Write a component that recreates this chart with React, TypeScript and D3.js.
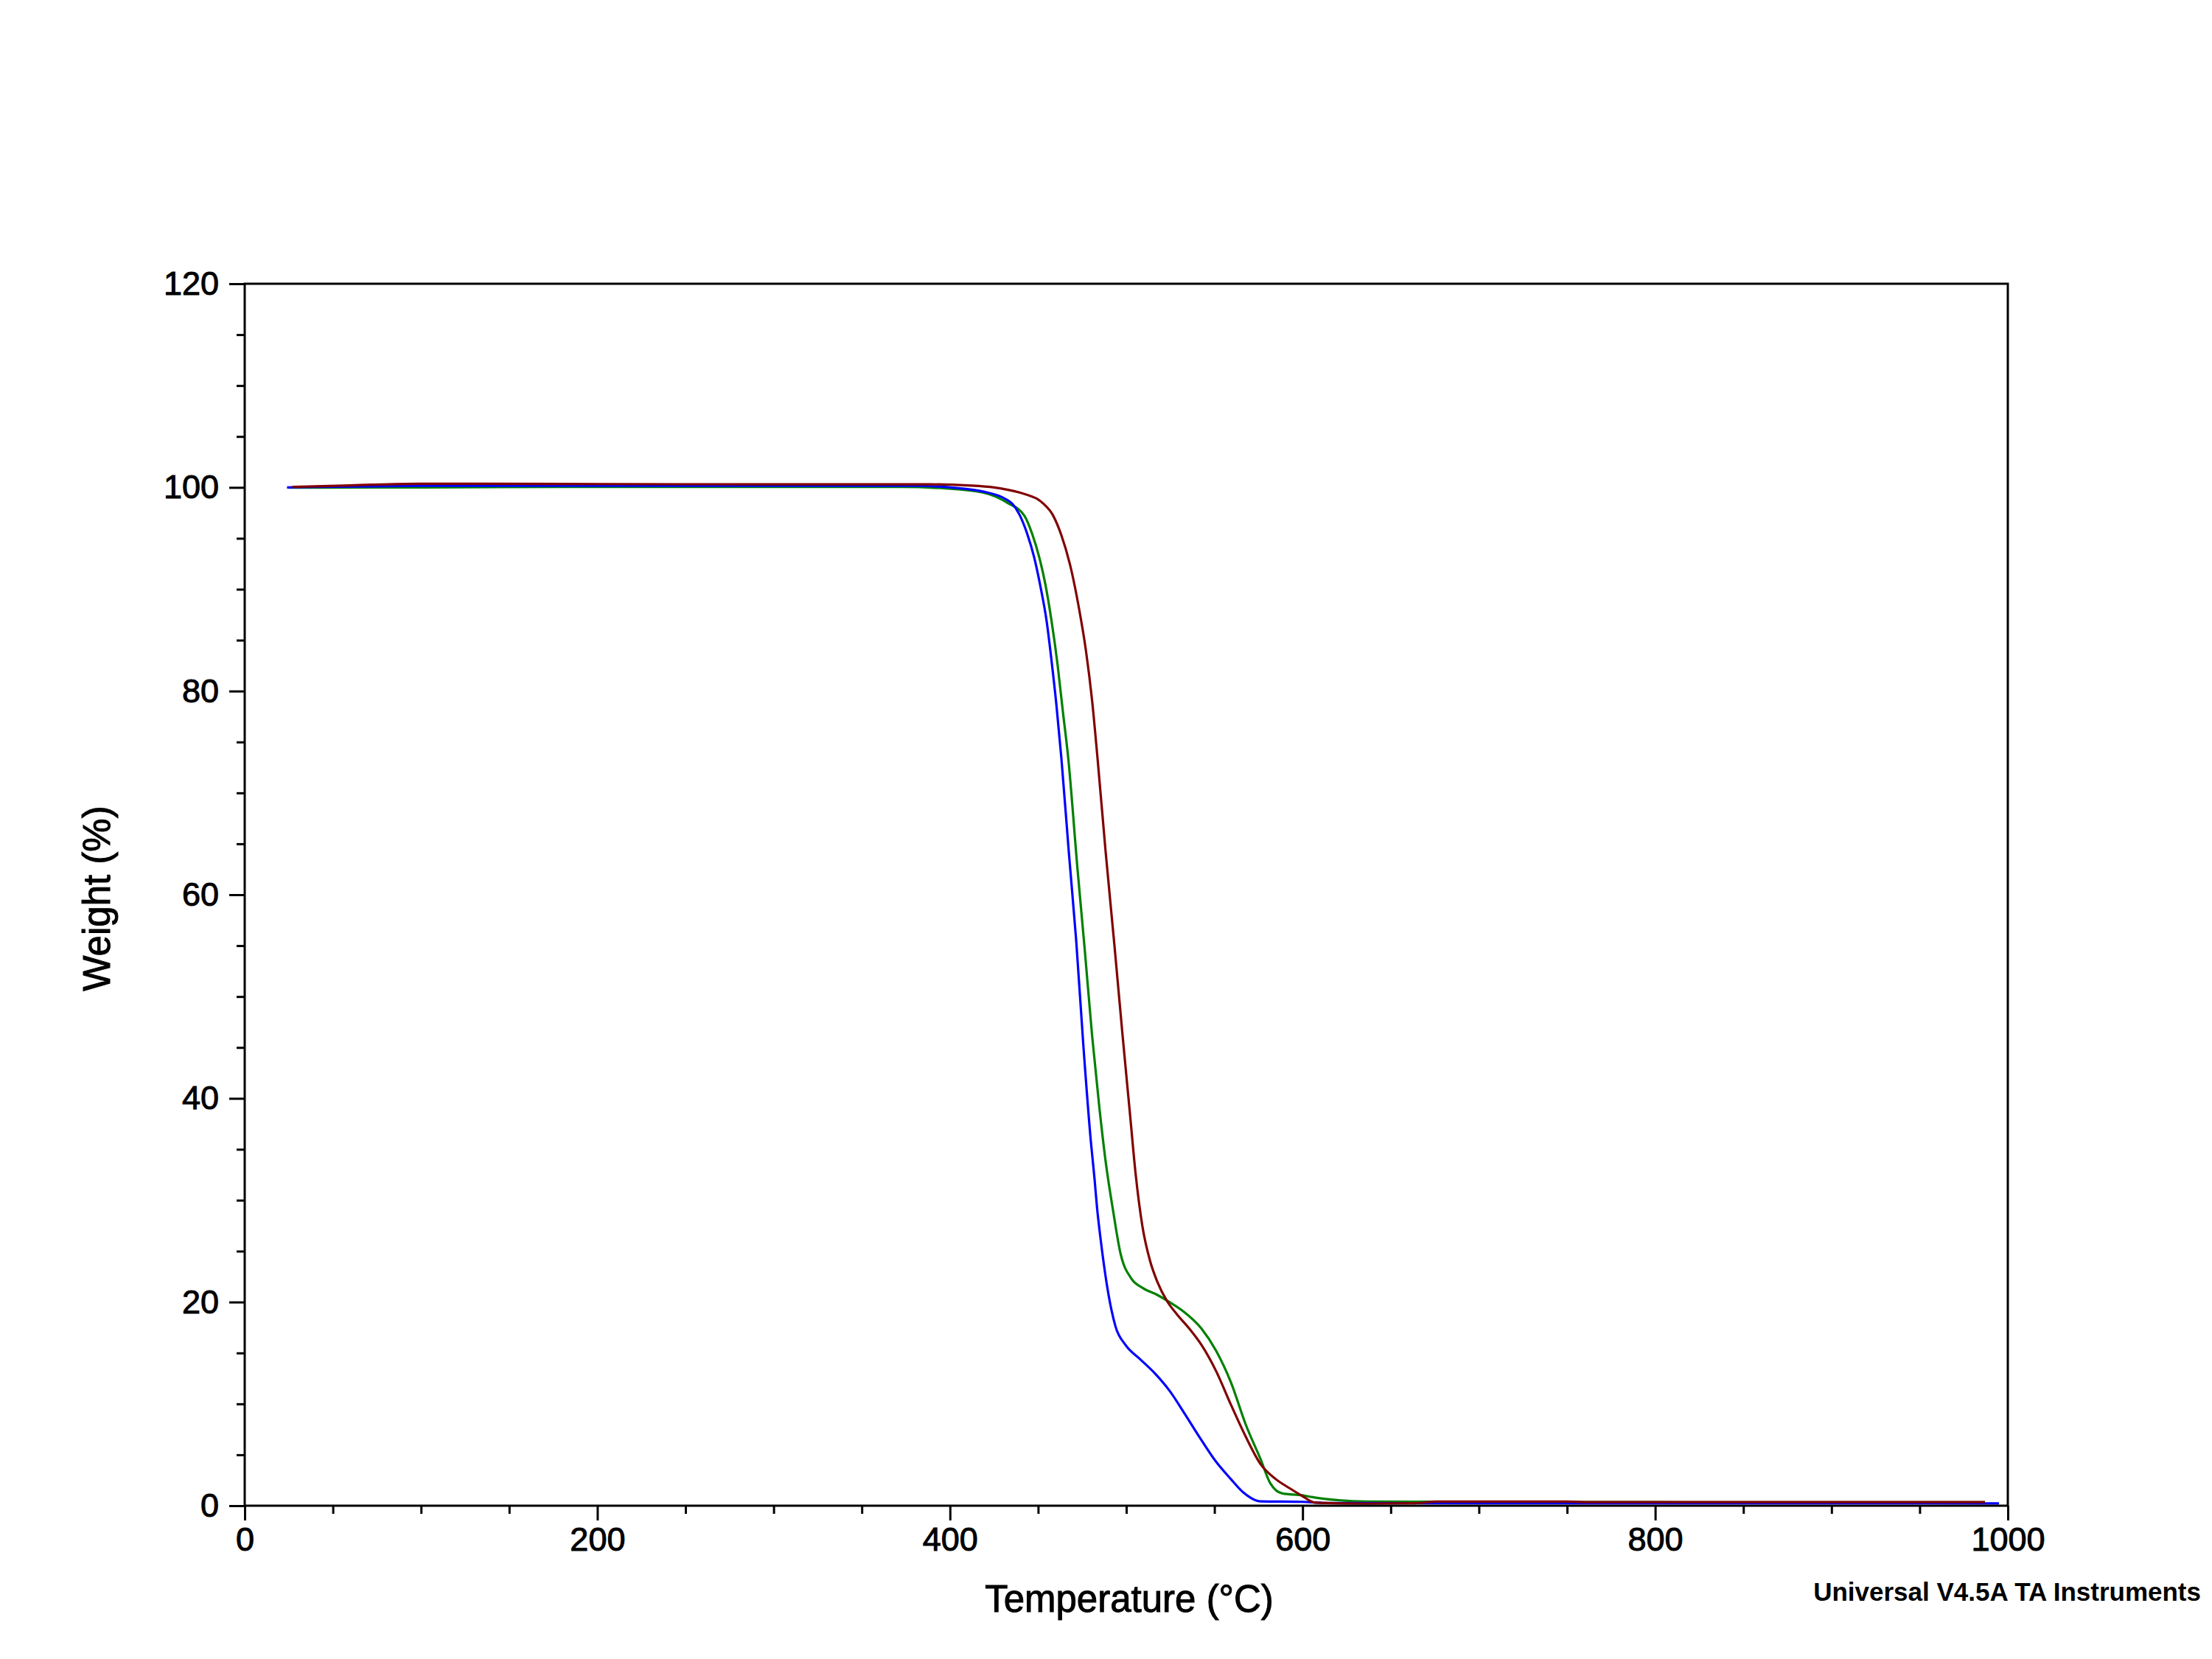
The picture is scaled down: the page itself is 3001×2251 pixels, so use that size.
import React, { useEffect, useRef } from 'react';
import * as d3 from 'd3';

// TGA curves: [temperature °C, weight %]
const blueSeries: [number, number][] = [
  [24, 100.0], [40, 100.05], [100, 100.15], [200, 100.16], [300, 100.16], [381, 100.15],
  [404.7, 99.93], [418.6, 99.6], [431.1, 98.9], [435.3, 98.4], [439.5, 97.3], [443.7, 95.5],
  [447.8, 93.1], [451.4, 90.2], [454.8, 86.9], [457.6, 83.0], [460.4, 78.6], [463.2, 73.4],
  [467.4, 64.2], [471.6, 55.5], [475.7, 45.1], [479.9, 35.8], [482.0, 32.1], [483.4, 29.3],
  [485.5, 26.1], [489.0, 21.7], [493.9, 17.6], [499.5, 15.8], [507.8, 14.4], [516.2, 13.0],
  [524.5, 11.3], [532.9, 9.1], [541.3, 6.8], [551.0, 4.3], [559.4, 2.6], [566.4, 1.3],
  [576.1, 0.43], [600, 0.38], [615, 0.26], [700, 0.25], [800, 0.24], [900, 0.24], [995, 0.23],
];

const greenSeries: [number, number][] = [
  [25, 99.98], [100, 100.0], [200, 100.05], [300, 100.05], [372, 100.05], [397.6, 99.9],
  [418.6, 99.5], [432.5, 98.5], [442.3, 97.2], [446.5, 95.5], [450.7, 93.1], [454.1, 90.5],
  [457.6, 86.9], [461.1, 82.5], [463.9, 78.2], [467.1, 73.4], [472.3, 62.6], [476.5, 54.5],
  [480.6, 46.2], [484.8, 39.0], [488.3, 33.8], [492.5, 29.0], [496.7, 24.8], [502.9, 22.3],
  [509.2, 21.4], [517.6, 20.7], [524.5, 20.0], [531.5, 19.2], [542.6, 17.4], [551.0, 15.2],
  [559.4, 12.1], [567.7, 8.0], [576.1, 4.6], [581.7, 2.2], [588.6, 1.2], [599.8, 1.02],
  [606.8, 0.8], [620.7, 0.53], [636, 0.41], [664, 0.39], [750, 0.36], [850, 0.34], [987, 0.33],
];

const redSeries: [number, number][] = [
  [27, 100.05], [60, 100.2], [99, 100.36], [200, 100.33], [300, 100.3], [389, 100.3],
  [410, 100.2], [425, 100.0], [439.5, 99.5], [446.5, 99.1], [449.3, 98.9], [453, 98.4],
  [458.3, 97.3], [463.2, 95.3], [468.8, 91.9], [473, 88.3], [477.1, 84.0], [480.6, 79.1],
  [483.7, 73.4], [488.3, 64.2], [493.2, 55.2], [498.0, 46.0], [502.2, 38.3], [505.3, 32.6],
  [509.2, 27.4], [513.4, 24.1], [517.6, 22.0], [523.1, 20.1], [528.7, 18.8], [535.7, 17.4],
  [542.6, 15.8], [551.0, 13.2], [559.4, 9.9], [567.7, 6.8], [576.1, 4.1], [584.5, 2.65],
  [592.8, 1.7], [599.8, 0.96], [607, 0.3], [636, 0.2], [664, 0.24], [676, 0.41], [750, 0.41],
  [760, 0.36], [870, 0.36], [987, 0.36],
];

const xMajorTicks = [0, 200, 400, 600, 800, 1000];
const yMajorTicks = [0, 20, 40, 60, 80, 100, 120];

const series = [
  { name: 'green', color: '#008000', values: greenSeries },
  { name: 'blue', color: '#0000ff', values: blueSeries },
  { name: 'red', color: '#800000', values: redSeries },
];

const WIDTH = 3001;
const HEIGHT = 2251;
const FONT = '"Liberation Sans", Arial, sans-serif';

const App: React.FC = () => {
  const svgRef = useRef<SVGSVGElement>(null);

  useEffect(() => {
    if (!svgRef.current) return;
    const svg = d3.select(svgRef.current);
    svg.selectAll('*').remove();

    const plot = { left: 332, right: 2724, top: 385, bottom: 2043 };

    const x = d3.scaleLinear().domain([0, 1000]).range([plot.left, plot.right]);
    const y = d3.scaleLinear().domain([0, 120]).range([plot.bottom, plot.top]);

    const xMinor = d3.range(50, 1000, 50).filter(v => v % 200 !== 0);
    const yMinor = d3.range(5, 120, 5).filter(v => v % 20 !== 0);

    svg.append('rect')
      .attr('width', WIDTH)
      .attr('height', HEIGHT)
      .attr('fill', '#fff');

    // curves
    const line = d3.line<[number, number]>()
      .x(d => x(d[0]))
      .y(d => y(d[1]))
      .curve(d3.curveMonotoneX);

    svg.append('g')
      .selectAll('path')
      .data(series)
      .join('path')
        .attr('d', d => line(d.values))
        .attr('fill', 'none')
        .attr('stroke', d => d.color)
        .attr('stroke-width', 3.2);

    // frame
    svg.append('rect')
      .attr('x', plot.left)
      .attr('y', plot.top)
      .attr('width', plot.right - plot.left)
      .attr('height', plot.bottom - plot.top)
      .attr('fill', 'none')
      .attr('stroke', '#000')
      .attr('stroke-width', 3);

    const styleAxis = (g: d3.Selection<SVGGElement, unknown, null, undefined>) => {
      g.select('.domain').remove();
      g.selectAll('line').attr('stroke', '#000').attr('stroke-width', 3);
      g.selectAll('text')
        .attr('fill', '#000')
        .attr('stroke', '#000')
        .attr('stroke-width', 1)
        .attr('font-family', FONT)
        .attr('font-size', 45);
    };

    // x axis
    svg.append('g')
      .attr('transform', `translate(0,${plot.bottom})`)
      .call(d3.axisBottom(x).tickValues(xMinor).tickSize(11).tickFormat(() => ''))
      .call(styleAxis);
    svg.append('g')
      .attr('transform', `translate(0,${plot.bottom})`)
      .call(d3.axisBottom(x).tickValues(xMajorTicks).tickSize(20).tickPadding(9).tickFormat(d3.format('d')))
      .call(styleAxis);

    // y axis
    svg.append('g')
      .attr('transform', `translate(${plot.left},0)`)
      .call(d3.axisLeft(y).tickValues(yMinor).tickSize(11).tickFormat(() => ''))
      .call(styleAxis);
    svg.append('g')
      .attr('transform', `translate(${plot.left},0)`)
      .call(d3.axisLeft(y).tickValues(yMajorTicks).tickSize(21).tickPadding(14).tickFormat(d3.format('d')))
      .call(styleAxis);

    // titles
    svg.append('text')
      .attr('x', 1532)
      .attr('y', 2187)
      .attr('text-anchor', 'middle')
      .attr('font-family', FONT)
      .attr('font-size', 51)
      .attr('fill', '#000')
      .attr('stroke', '#000')
      .attr('stroke-width', 1)
      .text('Temperature (°C)');

    svg.append('text')
      .attr('transform', `translate(149,${(plot.top + plot.bottom) / 2 + 5}) rotate(-90)`)
      .attr('text-anchor', 'middle')
      .attr('font-family', FONT)
      .attr('font-size', 51)
      .attr('fill', '#000')
      .attr('stroke', '#000')
      .attr('stroke-width', 1)
      .text('Weight (%)');

    svg.append('text')
      .attr('x', 2986)
      .attr('y', 2172)
      .attr('text-anchor', 'end')
      .attr('font-family', FONT)
      .attr('font-size', 35)
      .attr('font-weight', 'bold')
      .attr('fill', '#000')
      .text('Universal V4.5A TA Instruments');
  }, []);

  return (
    <svg
      ref={svgRef}
      width={WIDTH}
      height={HEIGHT}
      style={{ position: 'absolute', left: 0, top: 0, display: 'block' }}
    />
  );
};

export default App;
